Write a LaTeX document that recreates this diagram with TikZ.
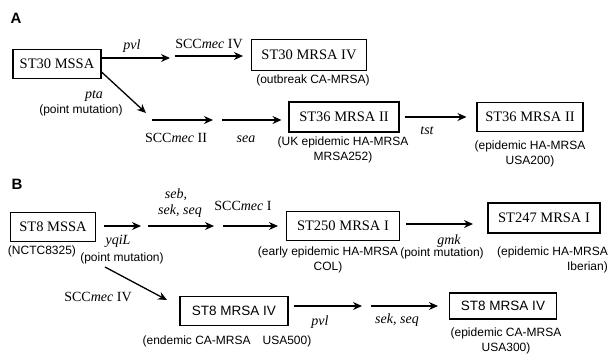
\documentclass[tikz,border=0pt]{standalone}
\usepackage{fontspec}
\setmainfont{Liberation Serif}
\setsansfont{Liberation Sans}
\usetikzlibrary{arrows.meta,calc}
\begin{document}
\begin{tikzpicture}[x=1pt,y=-1pt,
 box/.style={draw, line width=1.1pt, inner sep=0pt, font=\fontsize{14.5}{17}\selectfont},
 sbox/.style={box, font=\fontsize{13.5}{16}\selectfont\sffamily},
 captext/.style={font=\fontsize{12}{15}\selectfont\sffamily, align=center, inner sep=0pt},
 lab/.style={font=\fontsize{14}{16}\selectfont, inner sep=0pt},
 ilab/.style={font=\fontsize{14}{16}\selectfont\itshape, inner sep=0pt},
 arr/.style={line width=1.3pt, -{Stealth[length=9pt,width=8pt]}},
 panel/.style={font=\fontsize{15}{17}\selectfont\sffamily\bfseries, inner sep=0pt}]
\useasboundingbox (0,0) rectangle (611,354);

% ---------------- Panel A ----------------
\node[panel] (pA) at (16,18) {A};
\node[box, minimum width=88pt, minimum height=29pt] (a1) at (57,64) {ST30 MSSA};
\node[box, minimum width=115pt, minimum height=31pt] (a2) at (309,55) {ST30 MRSA IV};
\node[captext] (a2c) at (313,80) {(outbreak CA-MRSA)};
\node[box, minimum width=110pt, minimum height=30pt] (a3) at (344,117) {ST36 MRSA II};
\node[captext] (a3c) at (343,149.5) {(UK epidemic HA-MRSA\\MRSA252)};
\node[box, minimum width=106pt, minimum height=29pt] (a4) at (530,117) {ST36 MRSA II};
\node[captext] (a4c) at (530,154) {(epidemic HA-MRSA\\USA200)};

\node[ilab] (l1) at (132,46) {pvl};
\node[lab] (l2) at (209,44) {SCC\textit{mec} IV};
\node[ilab] (l3) at (94,96) {pta};
\node[captext] (l4) at (81,110) {(point mutation)};
\node[lab] (l5) at (176,138) {SCC\textit{mec} II};
\node[ilab] (l6) at (246,139) {sea};
\node[ilab] (l7) at (427,131) {tst};

\coordinate (j1) at (170,58);
\coordinate (j2) at (175,56);
\coordinate (j4) at (146,113);
\coordinate (j5) at (152,120);
\coordinate (j6) at (213,120);
\coordinate (j7) at (222,120);

\draw[arr] (a1.east |- j1) -- (j1);
\draw[arr, shorten >=8pt] (j2) -- (j2 -| a2.west);
\draw[arr] ([yshift=-8pt]a1.east) -- (j4);
\draw[arr] (j5) -- (j6);
\draw[arr, shorten >=7pt] (j7) -- (j7 -| a3.west);
\draw[arr, shorten <=5pt, shorten >=10pt] (a3.east) -- (a4.west);

% ---------------- Panel B ----------------
\node[panel] (pB) at (17,184) {B};
\node[box, minimum width=85pt, minimum height=29pt] (b1) at (53,227) {ST8 MSSA};
\node[captext] (b1c) at (42,251) {(NCTC8325)};
\node[box, minimum width=113pt, minimum height=29pt] (b2) at (343,226) {ST250 MRSA I};
\node[captext] (b2c) at (328,259.5) {(early epidemic HA-MRSA\\COL)};
\node[box, minimum width=112pt, minimum height=30pt] (b3) at (544,218) {ST247 MRSA I};
\node[captext, align=right, anchor=east] (b3c) at (608,259.5) {(epidemic HA-MRSA\\Iberian)};
\node[sbox, minimum width=108pt, minimum height=29pt] (b4) at (234,311) {ST8 MRSA IV};
\node[captext] (b4c) at (227,341) {(endemic CA-MRSA\quad USA500)};
\node[sbox, minimum width=107pt, minimum height=26pt] (b5) at (503,306) {ST8 MRSA IV};
\node[captext] (b5c) at (506,340.5) {(epidemic CA-MRSA\\USA300)};

\node[ilab] (m1) at (118,241) {yqiL};
\node[captext] (m2) at (122,258) {(point mutation)};
\node[ilab] (m3) at (176,195) {seb,};
\node[ilab] (m4) at (180,211) {sek, seq};
\node[lab] (m5) at (243,206) {SCC\textit{mec} I};
\node[ilab] (m6) at (449,241) {gmk};
\node[captext] (m7) at (442,253) {(point mutation)};
\node[lab] (m8) at (98,297) {SCC\textit{mec} IV};
\node[ilab] (m9) at (320,322) {pvl};
\node[ilab] (m10) at (397,320) {sek, seq};

\coordinate (k1) at (141,226);
\coordinate (k2) at (148,226);
\coordinate (k3) at (214,226);
\coordinate (k4) at (223,226);
\coordinate (k5) at (473,224);
\coordinate (k6) at (105,267);
\coordinate (k7) at (167,300);
\coordinate (k8) at (362,306);
\coordinate (k9) at (371,306);

\draw[arr, shorten <=8pt] (b1.east |- k1) -- (k1);
\draw[arr] (k2) -- (k3);
\draw[arr, shorten >=8pt] (k4) -- (k4 -| b2.west);
\draw[arr, shorten <=6pt] (b2.east |- k5) -- (k5);
\draw[arr] (k6) -- (k7);
\draw[arr, shorten <=5pt] (b4.east |- k8) -- (k8);
\draw[arr, shorten >=11pt] (k9) -- (k9 -| b5.west);
\end{tikzpicture}
\end{document}
